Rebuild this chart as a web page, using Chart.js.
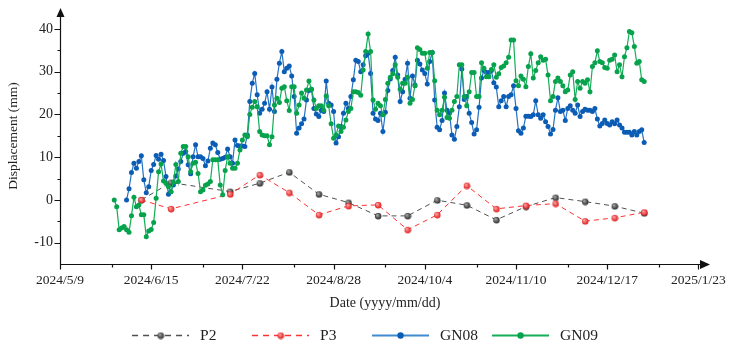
<!DOCTYPE html>
<html lang="en">
<head>
<meta charset="UTF-8" />
<title>Displacement P2 / P3 / GN08 / GN09</title>
<script src="https://cdn.jsdelivr.net/npm/chart.js"></script>
<style>
  body { margin: 0; background: #fff; }
  canvas { display: block; }
</style>
</head>
<body>
<canvas id="chart" width="730" height="348"></canvas>
<script>
// x values are days counted from 2024/5/9
const xTickLabels = ["2024/5/9", "2024/6/15", "2024/7/22", "2024/8/28", "2024/10/4", "2024/11/10", "2024/12/17", "2025/1/23"];
const xTickStep = 37;
const xMinorTicks = [21, 58, 95, 132, 169, 206, 243];
const yTicks = [-10, 0, 10, 20, 30, 40];
const yMinorTicks = [-5, 5, 15, 25, 35];

// levelling points (every ~12 days)
const pDays = [33, 45, 69, 81, 93, 105, 117, 129, 141, 153, 165, 177, 189, 201, 213, 225, 237];
const p2 = [0, 4.05, 1.94, 3.9, 6.48, 1.33, -0.63, -3.74, -3.74, -0.07, -1.24, -4.68, -1.57, 0.54, -0.4, -1.47, -3.11];
const p3 = [0, -2.1, 1.33, 5.85, 1.7, -3.5, -1.4, -1.17, -7.0, -3.5, 3.35, -2.1, -1.33, -0.87, -4.98, -4.2, -2.9];

// GNSS stations, daily values
const gn08Start = 27;
const gn08 = [
  0, 2.6, 6.4, 8.6, 7.4, 9.0, 10.3, 4.7, 1.7, 3.1,
  6.9, 8.3, 10.4, 9.5, 10.7, 9.2, 5.5, 1.3, 1.9, 3.5,
  5.6, 7.2, 9.0, 10.9, 11.3, 8.2, 6.1, 10.1, 12.9, 10.1,
  10.1, 9.7, 8.0, 9.1, 12.1, 13.3, 12.9, 11.1, 9.5, 9.7,
  10.0, 11.9, 10.1, 8.6, 14.0, 12.7, 12.6, 12.6, 12.5, 15.2,
  23.0, 27.3, 29.6, 24.6, 20.3, 21.2, 22.6, 25.3, 21.2, 26.4,
  20.7, 28.2, 32.0, 34.7, 30.0, 30.8, 31.3, 29.0, 24.2, 15.6,
  16.8, 17.8, 18.9, 23.4, 25.6, 25.9, 21.4, 20.1, 19.5, 21.0,
  20.7, 27.8, 22.6, 22.2, 20.7, 13.3, 14.8, 17.2, 20.3, 22.6,
  21.4, 24.2, 28.1, 32.7, 32.4, 30.0, 31.6, 33.7, 34.3, 29.6,
  20.3, 18.9, 18.6, 20.3, 16.0, 20.5, 25.6, 28.3, 30.3, 33.4,
  29.2, 23.0, 25.3, 28.2, 32.0, 23.8, 29.0, 26.9, 32.7, 31.8,
  30.4, 29.6, 27.1, 32.4, 34.5, 23.4, 17.0, 16.4, 18.6, 25.0,
  21.0, 20.3, 15.2, 14.2, 17.2, 21.8, 30.6, 23.5, 24.2, 20.3,
  18.1, 15.4, 16.4, 21.7, 28.5, 30.3, 29.8, 29.8, 30.3, 27.4,
  26.4, 21.8, 23.2, 24.2, 21.8, 24.2, 24.6, 26.7, 21.4, 16.2,
  15.6, 16.8, 19.6, 19.6, 19.5, 19.9, 23.2, 19.9, 19.1, 19.9,
  18.3, 17.2, 15.4, 16.5, 21.0, 23.9, 20.7, 21.0, 18.6, 21.4,
  22.0, 21.0, 20.3, 22.2, 19.5, 20.7, 21.2, 21.0, 21.0, 20.7,
  21.4, 18.9, 17.3, 17.9, 18.7, 17.9, 17.5, 18.3, 17.8, 18.7,
  17.5, 16.8, 15.8, 15.8, 15.8, 15.2, 16.0, 15.2, 16.0, 16.4,
  13.4
];
const gn09Start = 22;
const gn09 = [
  0, -1.6, -7.0, -6.6, -6.2, -7.0, -7.6, -3.7, 0.6, -1.6,
  -1.2, -3.5, -3.5, -8.6, -7.3, -6.9, -5.3, 0.4, 6.6, 8.4,
  4.4, 3.9, 3.1, 1.9, 4.1, 8.3, 4.3, 10.9, 12.5, 12.5,
  10.1, 6.6, 8.6, 8.8, 6.2, 1.9, 2.3, 3.4, 3.7, 4.3,
  9.4, 9.4, 9.4, 3.5, 1.2, 6.9, 10.1, 8.6, 7.4, 7.4,
  8.6, 11.7, 14.0, 15.2, 14.8, 20.0, 21.7, 23.0, 21.8, 16.0,
  15.2, 15.0, 15.0, 12.9, 14.8, 22.2, 23.8, 22.8, 26.1, 26.5,
  23.2, 20.9, 26.5, 26.5, 20.3, 22.2, 25.0, 23.8, 25.7, 27.8,
  25.9, 23.4, 21.4, 22.0, 22.0, 21.0, 24.3, 22.0, 17.8, 14.4,
  15.2, 17.3, 16.0, 17.0, 18.7, 20.7, 21.4, 25.3, 25.3, 25.1,
  24.5, 30.4, 34.7, 38.8, 34.7, 23.4, 21.2, 22.6, 22.0, 19.9,
  23.5, 27.3, 28.7, 29.5, 31.6, 28.7, 25.9, 27.3, 27.3, 28.7,
  22.6, 23.5, 26.7, 35.6, 35.2, 34.3, 34.3, 30.8, 34.5, 34.5,
  27.9, 21.0, 19.9, 21.0, 24.0, 19.3, 19.1, 21.0, 23.0, 24.2,
  31.6, 31.6, 24.2, 22.0, 25.3, 29.8, 29.8, 24.2, 24.2, 32.1,
  30.8, 28.8, 28.8, 30.5, 31.6, 28.7, 29.5, 31.0, 31.3, 32.1,
  33.4, 37.4, 37.4, 27.9, 26.7, 29.0, 28.2, 26.5, 31.2, 34.2,
  28.5, 30.3, 32.1, 33.5, 32.7, 32.9, 29.2, 23.2, 24.2, 27.7,
  28.5, 27.7, 26.7, 25.3, 25.7, 29.2, 30.0, 23.5, 27.7, 26.1,
  27.7, 27.3, 28.1, 25.3, 31.2, 32.1, 34.9, 32.4, 32.1, 31.0,
  30.8, 32.7, 32.9, 33.9, 30.0, 31.6, 28.8, 33.5, 35.6, 39.4,
  39.1, 35.9, 32.0, 32.4, 28.1, 27.7
];

const serif = "'Liberation Serif', 'Times New Roman', serif";

// little shaded ball used as marker for the levelling points
function ball(dark, light, r) {
  const c = document.createElement("canvas");
  c.width = c.height = r * 2 + 2;
  const g = c.getContext("2d");
  const m = r + 1;
  const grad = g.createRadialGradient(m - r * 0.4, m - r * 0.4, 0.2, m, m, r);
  grad.addColorStop(0, light);
  grad.addColorStop(1, dark);
  g.fillStyle = grad;
  g.beginPath();
  g.arc(m, m, r, 0, Math.PI * 2);
  g.fill();
  return c;
}

const toXY = (days, vals) => vals.map((v, i) => ({ x: days[i], y: v }));
const daily = (start, vals) => vals.map((v, i) => ({ x: start + i, y: v }));

const datasets = [
  {
    label: "P2",
    data: toXY(pDays, p2),
    borderColor: "#505050",
    borderWidth: 1,
    borderDash: [5, 4],
    pointStyle: ball("#2a2a2a", "#b0b0b0", 3.2),
    legendLine: "#505050",
    order: 3,
  },
  {
    label: "P3",
    data: toXY(pDays, p3),
    borderColor: "#ff3030",
    borderWidth: 1,
    borderDash: [5, 4],
    pointStyle: ball("#e01818", "#ffb0b0", 3.2),
    legendLine: "#ff3030",
    order: 2,
  },
  {
    label: "GN08",
    data: daily(gn08Start, gn08),
    borderColor: "#2373c4",
    backgroundColor: "#0b5cb5",
    pointBorderColor: "#0b5cb5",
    borderWidth: 1.2,
    pointRadius: 2.5,
    pointBorderWidth: 0,
    legendLine: "#3f8ad0",
    order: 1,
  },
  {
    label: "GN09",
    data: daily(gn09Start, gn09),
    borderColor: "#14ad58",
    backgroundColor: "#06a24c",
    pointBorderColor: "#06a24c",
    borderWidth: 1.2,
    pointRadius: 2.5,
    pointBorderWidth: 0,
    legendLine: "#14ad58",
    order: 0,
  },
];

// axes with arrows and outward major/minor ticks
const axesPlugin = {
  id: "axes",
  afterDraw(chart) {
    const { ctx, chartArea: a, scales } = chart;
    const x = scales.x, y = scales.y;
    const ax = Math.round(a.left) + 0.5;
    const ay = Math.round(a.bottom) + 0.5;
    ctx.save();
    ctx.strokeStyle = "#111";
    ctx.fillStyle = "#111";
    ctx.lineWidth = 1.2;
    ctx.beginPath();
    ctx.moveTo(ax, ay);
    ctx.lineTo(ax, a.top + 6);
    ctx.moveTo(ax, ay);
    ctx.lineTo(a.right - 6, ay);
    yTicks.forEach((v) => {
      const py = Math.round(y.getPixelForValue(v)) + 0.5;
      ctx.moveTo(ax - 6, py);
      ctx.lineTo(ax, py);
    });
    yMinorTicks.forEach((v) => {
      const py = Math.round(y.getPixelForValue(v)) + 0.5;
      ctx.moveTo(ax - 3, py);
      ctx.lineTo(ax, py);
    });
    xTickLabels.forEach((_, i) => {
      const px = Math.round(x.getPixelForValue(i * xTickStep)) + 0.5;
      ctx.moveTo(px, ay);
      ctx.lineTo(px, ay + 5);
    });
    xMinorTicks.forEach((v) => {
      const px = Math.round(x.getPixelForValue(v)) + 0.5;
      ctx.moveTo(px, ay);
      ctx.lineTo(px, ay + 3);
    });
    ctx.stroke();
    // arrow heads
    ctx.beginPath();
    ctx.moveTo(ax, a.top);
    ctx.lineTo(ax - 4, a.top + 9);
    ctx.lineTo(ax + 4, a.top + 9);
    ctx.closePath();
    ctx.fill();
    ctx.beginPath();
    ctx.moveTo(a.right, ay);
    ctx.lineTo(a.right - 10, ay - 4.5);
    ctx.lineTo(a.right - 10, ay + 4.5);
    ctx.closePath();
    ctx.fill();
    ctx.restore();
  },
};

// legend: dashed / solid line with the marker in the middle
const legendPlugin = {
  id: "lineLegend",
  afterDraw(chart) {
    const { ctx } = chart;
    const lineLen = 57, gap = 11, step = 120, ly = 335.5;
    ctx.save();
    ctx.font = "15.5px " + serif;
    const sets = [0, 1, 2, 3].map((i) => chart.data.datasets[i]);
    const lastW = ctx.measureText(sets[3].label).width;
    const total = step * 3 + lineLen + gap + lastW;
    let sx = (chart.width - total) / 2;
    sets.forEach((ds) => {
      ctx.beginPath();
      ctx.strokeStyle = ds.legendLine;
      ctx.lineWidth = ds.borderDash ? 1.3 : 2;
      ctx.setLineDash(ds.borderDash ? [6, 5] : []);
      ctx.moveTo(sx, ly);
      ctx.lineTo(sx + lineLen, ly);
      ctx.stroke();
      ctx.setLineDash([]);
      const cx = sx + lineLen / 2;
      if (ds.pointStyle && typeof ds.pointStyle === "object") {
        ctx.drawImage(ds.pointStyle, cx - ds.pointStyle.width / 2, ly - ds.pointStyle.height / 2);
      } else {
        ctx.beginPath();
        ctx.fillStyle = ds.backgroundColor;
        ctx.arc(cx, ly, 3.2, 0, Math.PI * 2);
        ctx.fill();
      }
      ctx.fillStyle = "#222";
      ctx.textBaseline = "middle";
      ctx.fillText(ds.label, sx + lineLen + gap, ly);
      sx += step;
    });
    ctx.restore();
  },
};

new Chart(document.getElementById("chart"), {
  type: "line",
  data: { datasets },
  plugins: [axesPlugin, legendPlugin],
  options: {
    responsive: false,
    animation: false,
    devicePixelRatio: 1,
    layout: { padding: { left: 0, right: 20, top: 8, bottom: 36 } },
    plugins: { legend: { display: false }, tooltip: { enabled: false } },
    elements: { line: { tension: 0 }, point: { radius: 3, hoverRadius: 3 } },
    scales: {
      x: {
        type: "linear",
        min: 0,
        max: 263.7,
        grid: { display: false, drawTicks: false },
        border: { display: false },
        afterBuildTicks: (s) => {
          s.ticks = xTickLabels.map((_, i) => ({ value: i * xTickStep }));
        },
        afterFit: (s) => {
          s.height = 48;
          s.paddingLeft = 0;
          s.paddingRight = 0;
        },
        ticks: {
          padding: 8,
          maxRotation: 0,
          autoSkip: false,
          color: "#222",
          font: { family: serif, size: 13.5 },
          callback: (v) => xTickLabels[Math.round(v / xTickStep)],
        },
        title: {
          display: true,
          text: "Date (yyyy/mm/dd)",
          color: "#222",
          font: { family: serif, size: 14 },
          padding: { top: 0, bottom: 0 },
        },
      },
      y: {
        min: -15,
        max: 44.9,
        grid: { display: false, drawTicks: false },
        border: { display: false },
        afterBuildTicks: (s) => {
          s.ticks = yTicks.map((v) => ({ value: v }));
        },
        afterFit: (s) => {
          s.width = 60;
          s.paddingTop = 0;
          s.paddingBottom = 0;
        },
        ticks: {
          padding: 7,
          color: "#222",
          font: { family: serif, size: 14 },
        },
        title: {
          display: true,
          text: "Displacement (mm)",
          color: "#222",
          font: { family: serif, size: 13.5 },
          padding: { top: 5, bottom: 0 },
        },
      },
    },
  },
});
</script>
</body>
</html>
